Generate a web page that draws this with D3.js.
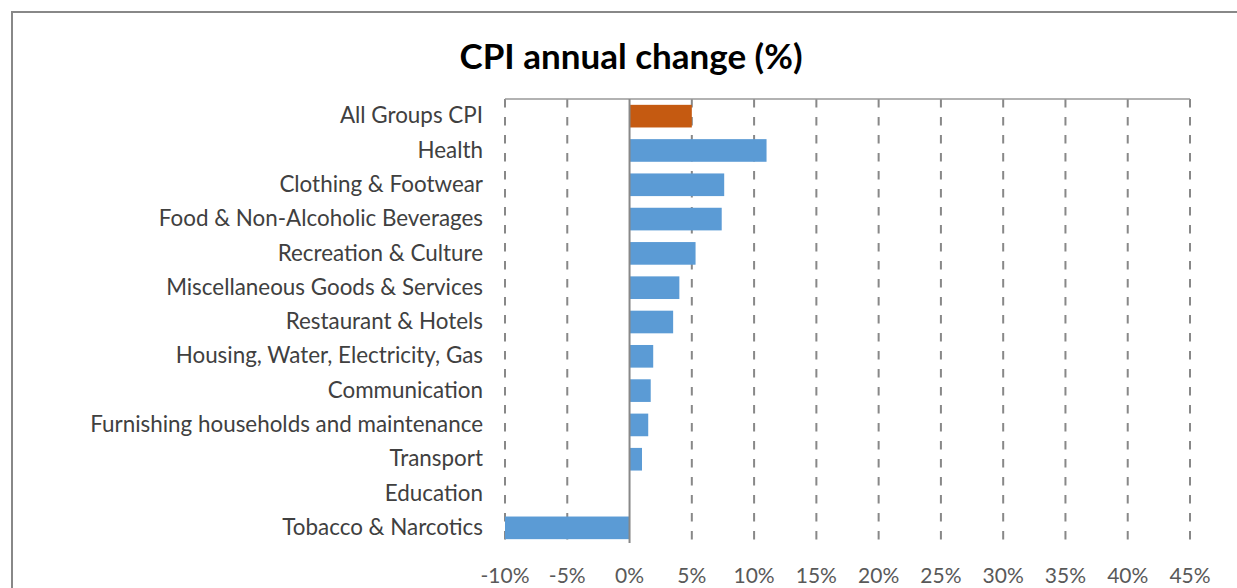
<!DOCTYPE html>
<html>
<head>
<meta charset="utf-8">
<script src="https://cdn.jsdelivr.net/npm/d3@7"></script>
<style>
  body { margin: 0; background: #fff; }
  svg { display: block; }
</style>
</head>
<body>
<svg id="chart" width="1237" height="588"></svg>
<script>
// categories top to bottom, values in %
const categories = [
    'All Groups CPI',
    'Health',
    'Clothing & Footwear',
    'Food & Non-Alcoholic Beverages',
    'Recreation & Culture',
    'Miscellaneous Goods & Services',
    'Restaurant & Hotels',
    'Housing, Water, Electricity, Gas',
    'Communication',
    'Furnishing households and maintenance',
    'Transport',
    'Education',
    'Tobacco & Narcotics'
];
const values = [5.0, 11.0, 7.6, 7.4, 5.3, 4.0, 3.5, 1.9, 1.7, 1.5, 1.0, 0.0, -10.0];
const tickValues = [-10, -5, 0, 5, 10, 15, 20, 25, 30, 35, 40, 45];
const highlight = 'All Groups CPI';

const svg = d3.select('#chart');
const plotLeft = 505, plotRight = 1190, plotTop = 99, plotBottom = 545;

// outer frame
svg.append('rect')
    .attr('x', 12).attr('y', 12)
    .attr('width', 1240).attr('height', 600)
    .attr('fill', 'none')
    .attr('stroke', '#888')
    .attr('stroke-width', 2);

svg.append('text')
    .attr('x', 631).attr('y', 69)
    .attr('text-anchor', 'middle')
    .attr('font-family', 'Lato, sans-serif')
    .attr('font-weight', 'bold')
    .attr('font-size', 35)
    .attr('fill', '#000')
    .text('CPI annual change (%)');

let x = d3.scaleLinear()
    .domain([-10, 45])
    .range([plotLeft, plotRight]);

let y = d3.scaleBand()
    .domain(categories)
    .range([plotTop, plotBottom])
    .paddingInner(0.34)
    .paddingOuter(0.17);

// dashed vertical gridlines
svg.append('g')
    .selectAll('line')
    .data(tickValues.filter(d => d !== 0))
    .enter().append('line')
    .attr('x1', d => x(d)).attr('x2', d => x(d))
    .attr('y1', plotTop).attr('y2', plotBottom - 4)
    .attr('stroke', '#888')
    .attr('stroke-width', 2)
    .attr('stroke-dasharray', '8.5,9.5');

// top border line
svg.append('line')
    .attr('x1', plotLeft).attr('x2', plotRight)
    .attr('y1', plotTop).attr('y2', plotTop)
    .attr('stroke', '#999')
    .attr('stroke-width', 1.5);

// bars
svg.append('g')
    .selectAll('rect')
    .data(values)
    .enter().append('rect')
    .attr('x', d => x(Math.min(0, d)))
    .attr('y', (d, i) => y(categories[i]))
    .attr('width', d => Math.abs(x(d) - x(0)))
    .attr('height', y.bandwidth())
    .attr('fill', (d, i) => categories[i] === highlight ? '#c55a11' : '#5b9bd5');

// zero line
svg.append('line')
    .attr('x1', x(0)).attr('x2', x(0))
    .attr('y1', plotTop).attr('y2', plotBottom - 2)
    .attr('stroke', '#888')
    .attr('stroke-width', 2);

// category labels
svg.append('g')
    .selectAll('text')
    .data(categories)
    .enter().append('text')
    .attr('x', 483)
    .attr('y', d => y(d) + y.bandwidth() / 2)
    .attr('dy', '0.32em')
    .attr('text-anchor', 'end')
    .attr('font-family', 'Lato, sans-serif')
    .attr('font-size', 22.4)
    .attr('fill', '#404040')
    .text(d => d);

// x tick labels
svg.append('g')
    .selectAll('text')
    .data(tickValues)
    .enter().append('text')
    .attr('x', d => x(d))
    .attr('y', 576)
    .attr('dy', '0.35em')
    .attr('text-anchor', 'middle')
    .attr('font-family', 'Lato, sans-serif')
    .attr('font-size', 21)
    .attr('fill', '#595959')
    .text(d => d + '%');
</script>
</body>
</html>
